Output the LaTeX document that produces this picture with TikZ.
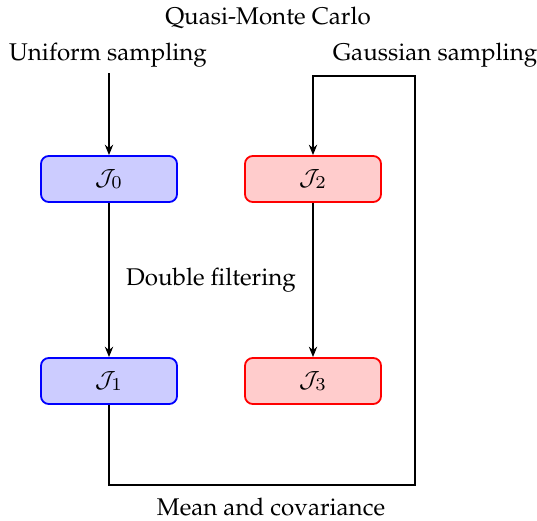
\documentclass[tikz,border=0pt]{standalone}
\usepackage[T1]{fontenc}
\usepackage{palatino}
\usetikzlibrary{arrows.meta}
\begin{document}
\fontsize{9.3}{11}\selectfont
\begin{tikzpicture}[x=0.385pt,y=-0.385pt,
  bluebox/.style={draw=blue,fill=blue!20,rounded corners=3pt,line width=0.7pt,minimum width=136*0.385pt,minimum height=46*0.385pt,inner sep=0pt},
  redbox/.style={draw=red,fill=red!20,rounded corners=3pt,line width=0.7pt,minimum width=136*0.385pt,minimum height=46*0.385pt,inner sep=0pt},
  conn/.style={line width=0.6pt,-{Stealth[length=4pt,width=3.2pt]}},
  lbl/.style={inner sep=0pt}]
\useasboundingbox (0,0) rectangle (537,520);
\node[bluebox] (J0) at (109,179) {$\mathcal{J}_0$};
\node[redbox] (J2) at (313,179) {$\mathcal{J}_2$};
\node[bluebox] (J1) at (109,381) {$\mathcal{J}_1$};
\node[redbox] (J3) at (313,381) {$\mathcal{J}_3$};
\node[lbl] (qmc) at (268,18) {Quasi-Monte Carlo};
\node[lbl] (us) at (108,55) {Uniform sampling};
\node[lbl] (gs) at (435,55) {Gaussian sampling};
\node[lbl] (df) at (211,280) {Double filtering};
\node[lbl] (mc) at (271,507) {Mean and covariance};
\coordinate (ustart) at (109,73);
\coordinate (c1) at (109,485);
\coordinate (c2) at (415,485);
\coordinate (c3) at (415,76);
\coordinate (c4) at (313,76);
\draw[conn] (ustart) -- (J0.north);
\draw[conn] (J0) -- (J1);
\draw[conn] (J2) -- (J3);
\draw[conn] (J1.south) -- (c1) -- (c2) -- (c3) -- (c4) -- (J2.north);
\end{tikzpicture}
\end{document}
